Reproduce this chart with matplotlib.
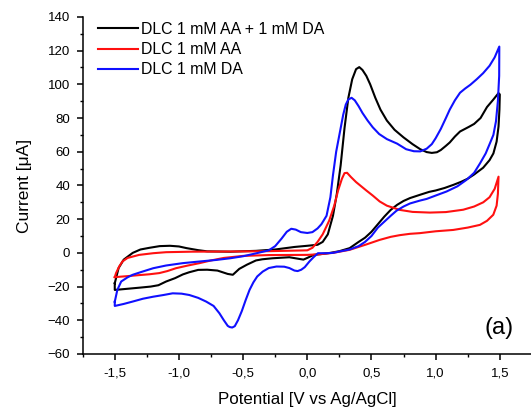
import matplotlib.pyplot as plt
from matplotlib.ticker import MultipleLocator, FuncFormatter

plt.rcParams['font.family'] = ['Liberation Sans', 'DejaVu Sans']

labels = ["DLC 1 mM AA + 1 mM DA", "DLC 1 mM AA", "DLC 1 mM DA"]

# AA + DA, forward scan then back
v_mix = [-1.5, -1.47, -1.43, -1.36, -1.3, -1.23, -1.15, -1.07, -1.0, -0.94, -0.85, -0.78, -0.6, -0.4,
         -0.25, -0.1, 0.0, 0.08, 0.12, 0.16, 0.2, 0.23, 0.26, 0.29, 0.32, 0.35, 0.38, 0.405, 0.43,
         0.46, 0.49, 0.53, 0.57, 0.62, 0.68, 0.75, 0.82, 0.88, 0.93, 0.97, 1.01, 1.04, 1.08, 1.11,
         1.15, 1.19, 1.22, 1.26, 1.3, 1.35, 1.4, 1.45, 1.49, 1.5,
         1.497, 1.49, 1.475, 1.45, 1.42, 1.37, 1.3, 1.25, 1.2, 1.14, 1.07, 1.0, 0.95, 0.88, 0.8,
         0.75, 0.7, 0.65, 0.6, 0.55, 0.5, 0.45, 0.4, 0.33, 0.25, 0.18, 0.1, 0.05, 0.0, -0.03, -0.07,
         -0.14, -0.27, -0.35, -0.4, -0.47, -0.53, -0.58, -0.62, -0.7, -0.78, -0.85, -0.92, -0.97,
         -1.03, -1.1, -1.16, -1.22, -1.3, -1.4, -1.5, -1.5]
i_mix = [-18, -9, -4, 0, 2, 3, 4, 4.2, 3.8, 2.8, 1.6, 0.9, 0.7, 1.2,
         2, 3.5, 4.2, 4.8, 6.5, 11, 22, 35, 52, 74, 92, 103, 109, 110.2, 108.5,
         105, 100, 92, 85, 78.5, 73, 68.5, 64.5, 61.5, 59.8, 59.3, 59.7, 61, 63.5, 65.5,
         69, 72, 73.2, 74.8, 76.5, 80, 86.5, 91, 94.8, 94,
         85, 75, 66, 59, 55, 50.5, 46.5, 44, 42.2, 40.4, 38.5, 37, 36.2, 34.5, 32.5,
         30.8, 28.5, 25.5, 21.5, 17, 12.5, 9, 6.5, 2.8, 1, 0, -0.8, -1.2, -3, -4, -3.5,
         -2.6, -3.2, -3.8, -4.5, -7, -9.5, -13, -12.5, -10.5, -10, -10.1, -11.5, -12.8,
         -15, -17, -19.2, -20, -20.6, -21.3, -22, -18]

# AA only
v_aa = [-1.5, -1.49, -1.465, -1.44, -1.4, -1.31, -1.2, -1.1, -0.9, -0.6, -0.3, 0.0, 0.04, 0.08,
        0.12, 0.17, 0.21, 0.24, 0.27, 0.29, 0.31, 0.34, 0.38, 0.42, 0.46, 0.51, 0.564, 0.62, 0.72,
        0.82, 0.955, 1.08, 1.215, 1.3, 1.371, 1.42, 1.46, 1.49,
        1.485, 1.475, 1.449, 1.4, 1.345, 1.25, 1.137, 1.0, 0.877, 0.8, 0.72, 0.65, 0.564, 0.46,
        0.33, 0.2, 0.1, 0.0, -0.3, -0.5, -0.65, -0.75, -0.84, -0.93, -1.023, -1.09, -1.153, -1.23,
        -1.31, -1.4, -1.5, -1.5]
i_aa = [-14.4, -12, -8, -5.1, -3, -1.2, -0.2, 0.4, 0.7, 0.8, 1, 1.5, 3, 6.5,
        11, 19, 28, 37, 44, 47.3, 47.5, 45, 42, 39.5, 37, 34, 30.5, 28, 25.5,
        24.3, 23.9, 24.2, 25.6, 27.5, 30, 33, 38, 45.2,
        35, 28, 22.6, 19, 16.6, 15, 13.6, 12.8, 11.7, 11.3, 10.5, 9.5, 7.7, 5,
        1.8, 0, -0.8, -1.2, -1.3, -1.8, -3, -4.5, -6.1, -7.5, -9.1, -10.8, -12, -12.7,
        -13.2, -13.8, -14.4, -14.4]

# DA only
v_da = [-1.5, -1.48, -1.45, -1.4, -1.36, -1.3, -1.2, -1.1, -0.97, -0.85, -0.71, -0.6, -0.5, -0.4,
        -0.3, -0.25, -0.2, -0.16, -0.125, -0.09, -0.05, 0.0, 0.04, 0.08, 0.11, 0.15, 0.18, 0.2,
        0.225, 0.25, 0.28, 0.3, 0.32, 0.345, 0.37, 0.4, 0.43, 0.47, 0.51, 0.56, 0.62, 0.7, 0.77,
        0.83, 0.88, 0.93, 0.97, 1.0, 1.04, 1.08, 1.11, 1.15, 1.19, 1.23, 1.27, 1.32, 1.37, 1.42,
        1.46, 1.496,
        1.495, 1.485, 1.47, 1.45, 1.423, 1.39, 1.345, 1.3, 1.24, 1.17, 1.085, 1.0, 0.93, 0.877,
        0.8, 0.75, 0.695, 0.65, 0.6, 0.55, 0.5, 0.45, 0.4, 0.33, 0.25, 0.2, 0.15, 0.083, 0.05,
        0.018, -0.02, -0.047, -0.075, -0.1, -0.14, -0.18, -0.24, -0.3, -0.347, -0.39, -0.42,
        -0.45, -0.48, -0.51, -0.54, -0.565, -0.585, -0.605, -0.62, -0.65, -0.685, -0.73, -0.788,
        -0.85, -0.919, -0.98, -1.049, -1.12, -1.2, -1.28, -1.361, -1.43, -1.5, -1.5]
i_da = [-29, -22, -17, -14.5, -13, -11.5, -9.1, -7.5, -6.1, -5.2, -4.2, -3.2, -2, -0.3,
        1.5, 4, 8.5, 12.5, 14.3, 13.8, 12.3, 11.8, 12.3, 14.5, 17, 22, 33, 46,
        60, 70, 82, 88, 91, 92, 90.5, 87, 83, 78.5, 74.5, 70.5, 67.5, 64.8, 61.5,
        60.3, 60.2, 61.8, 64.5, 68, 73.5, 80, 85, 90.5, 95, 97.5, 99.7, 103, 106.6, 111,
        116, 122.4,
        105, 90, 78, 70, 65, 59, 53, 47.5, 43.3, 39.5, 36.4, 34, 32, 31,
        29.3, 27.5, 25, 22, 18.5, 15, 10, 6.5, 4, 2, 0.8, 0, -0.2, -0.2, -2.5,
        -5, -8.5, -10, -10.8, -10.5, -9, -8.2, -8.1, -9, -11.1, -14, -17.5,
        -22, -28, -34.5, -40, -43.5, -44.3, -44, -43.3, -40, -35.8, -31.5, -28.9,
        -26.7, -25, -24.2, -24, -25, -26, -27.2, -28.9, -30.3, -31.5, -29]

fig = plt.figure(figsize=(5.31, 4.11), dpi=100)
ax = fig.add_axes([0.1557, 0.1387, 0.846, 0.8202])

ax.plot(v_mix, i_mix, color='black', lw=1.5, label=labels[0])
ax.plot(v_aa, i_aa, color='#ff1010', lw=1.5, label=labels[1])
ax.plot(v_da, i_da, color='#1010ff', lw=1.5, label=labels[2])

ax.set_xlim(-1.75, 1.75)
ax.set_ylim(-60, 140)
ax.spines['top'].set_visible(False)
ax.spines['right'].set_visible(False)
ax.spines['left'].set_linewidth(1.1)
ax.spines['bottom'].set_linewidth(1.1)

ax.xaxis.set_major_locator(MultipleLocator(0.5))
ax.xaxis.set_minor_locator(MultipleLocator(0.25))
ax.yaxis.set_major_locator(MultipleLocator(20))
ax.yaxis.set_minor_locator(MultipleLocator(10))
ax.xaxis.set_major_formatter(FuncFormatter(lambda v, p: ('%.1f' % v).replace('.', ',')))
ax.tick_params(which='major', direction='out', length=4.5, width=1.1, labelsize=9.5)
ax.tick_params(axis='x', which='major', pad=5.5)
ax.tick_params(axis='y', which='major', pad=4.5)
ax.tick_params(which='minor', direction='out', length=2.5, width=1.0)

ax.set_xlabel("Potential [V vs Ag/AgCl]", fontsize=12.2, labelpad=9)
ax.set_ylabel("Current [\u03bcA]", fontsize=12.5, labelpad=11)

ax.legend(loc='upper left', bbox_to_anchor=(0.034, 0.985), frameon=False, fontsize=11.4,
          handlelength=2.5, handletextpad=0.2, labelspacing=0.33, borderpad=0, borderaxespad=0)

ax.text(0.928, 0.0757, "(a)", transform=ax.transAxes, fontsize=17, ha='center', va='center')

fig.savefig("out.png", dpi=100)
